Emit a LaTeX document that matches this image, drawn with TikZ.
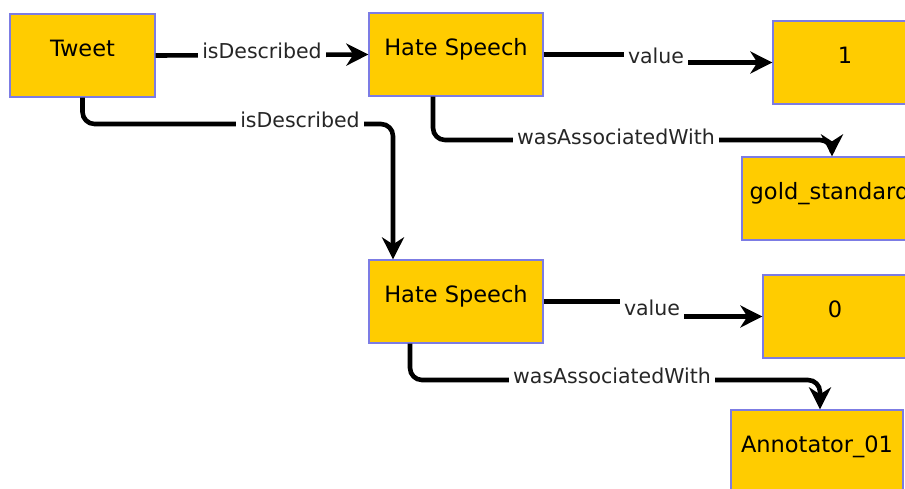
\documentclass[tikz,border=0pt]{standalone}
\usepackage{fontspec}
\setmainfont{DejaVu Sans}
\usetikzlibrary{arrows.meta}
\definecolor{boxfill}{HTML}{FFCC00}
\definecolor{boxline}{HTML}{7C7CE4}
\tikzset{
  entity/.style={draw=boxline, line width=1.3pt, fill=boxfill, minimum height=83pt,
    text height=17pt, text depth=15pt, font=\fontsize{22.5}{27}\selectfont},
  link/.style={line width=4.6pt, rounded corners=12pt, -{Stealth[length=22pt,width=22pt,inset=7pt]}},
  lbl/.style={fill=white, inner xsep=4pt, inner ysep=3.5pt, font=\fontsize{20.5}{24}\selectfont, text=black!85}
}
\begin{document}
\begin{tikzpicture}[x=1pt,y=-1pt]
        \useasboundingbox (0,0) rectangle (905,488);
        \clip (0,0) rectangle (905,488);

        % nodes
        \node[entity, minimum width=145pt] (tweet) at (82.5,55.5) {Tweet};
        \node[entity, minimum width=174pt] (hsA) at (456,54.5) {Hate Speech};
        \node[entity, minimum width=144pt] (one) at (845,62.5) {1};
        \node[entity, minimum width=175pt] (gold) at (829.5,198.5) {gold\_standard};
        \node[entity, minimum width=174pt] (hsB) at (456,301.5) {Hate Speech};
        \node[entity, minimum width=144pt] (zero) at (835,316.5) {0};
        \node[entity, minimum width=172pt] (annot) at (817,451.5) {Annotator\_01};

        % bends
        \coordinate (dA) at (262,55);
        \coordinate (dB) at (300,124);
        \coordinate (vA) at (656,58);
        \coordinate (wA) at (616,140);
        \coordinate (vB) at (652,309);
        \coordinate (wB) at (612,380);

        % connectors
        \draw[link] (tweet.east) -- (hsA.west);
        \draw[link] (tweet.south) |- (dB) -| ([xshift=-63pt]hsB.north);
        \draw[link, sharp corners] (hsA.east) -| (vA) |- (one.west);
        \draw[link] ([xshift=-23pt]hsA.south) |- (wA) -| ([xshift=2.5pt]gold.north);
        \draw[link, sharp corners] (hsB.east) -| (vB) |- (zero.west);
        \draw[link] ([xshift=-46pt]hsB.south) |- (wB) -| ([xshift=3pt]annot.north);

        % labels
        \node[lbl, yshift=4pt] (lA) at (dA) {isDescribed};
        \node[lbl, yshift=4pt] (lB) at (dB) {isDescribed};
        \node[lbl, yshift=2pt] (lC) at (vA) {value};
        \node[lbl, yshift=3pt] (lD) at (wA) {wasAssociatedWith};
        \node[lbl, yshift=1pt, inner ysep=4.5pt] (lE) at (vB) {value};
        \node[lbl, yshift=4pt] (lF) at (wB) {wasAssociatedWith};
\end{tikzpicture}
\end{document}
